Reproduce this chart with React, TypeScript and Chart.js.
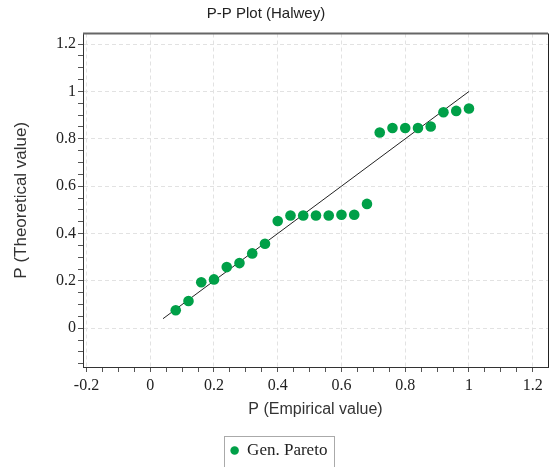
import React, { useEffect, useRef } from "react";
import { Chart, registerables } from "chart.js";

Chart.register(...registerables);

const chartTitle = "P-P Plot (Halwey)";
const xAxisTitle = "P (Empirical value)";
const yAxisTitle = "P (Theoretical value)";
const seriesName = "Gen. Pareto";

const empirical = [
  0.08, 0.12, 0.16, 0.2, 0.24, 0.28, 0.32, 0.36, 0.4, 0.44, 0.48, 0.52,
  0.56, 0.6, 0.64, 0.68, 0.72, 0.76, 0.8, 0.84, 0.88, 0.92, 0.96, 1.0,
];
const theoretical = [
  0.076, 0.115, 0.194, 0.206, 0.258, 0.275, 0.316, 0.357, 0.453, 0.476, 0.476, 0.476,
  0.476, 0.479, 0.479, 0.525, 0.827, 0.846, 0.846, 0.846, 0.852, 0.912, 0.918, 0.928,
];

const refLineX = [0.04, 1.0];
const refLineY = [0.04, 1.0];

const xTickLabels = [-0.2, 0, 0.2, 0.4, 0.6, 0.8, 1, 1.2];
const yTickLabels = [0, 0.2, 0.4, 0.6, 0.8, 1, 1.2];
const xRange = [-0.211, 1.248];
const yRange = [-0.164, 1.245];

const GREEN = "#00a048";

function withMinor(majors: number[], min: number, max: number): number[] {
  const step = (majors[1] - majors[0]) / 4;
  const out: number[] = [];
  let v = majors[0];
  while (v - step >= min - 1e-9) v -= step;
  for (; v <= max + 1e-9; v += step) out.push(Math.round(v * 1e6) / 1e6);
  return out;
}

function isMajor(majors: number[], v: number) {
  return majors.some((m) => Math.abs(m - v) < 1e-6);
}

const titlePlugin = {
  id: "customTitle",
  afterDraw(chart: any) {
    const ctx = chart.ctx;
    ctx.save();
    ctx.font = '15px "Liberation Sans"';
    ctx.fillStyle = "#222";
    ctx.textAlign = "center";
    ctx.textBaseline = "middle";
    ctx.fillText(chartTitle, 266, 14);
    ctx.restore();
  },
};

const framePlugin = {
  id: "frame",
  afterDraw(chart: any) {
    const { ctx, chartArea } = chart;
    const { left, right, top, bottom } = chartArea;
    ctx.save();
    ctx.strokeStyle = "#666";
    ctx.lineWidth = 2;
    ctx.beginPath();
    ctx.moveTo(left, top);
    ctx.lineTo(right, top);
    ctx.stroke();
    ctx.strokeStyle = "#222";
    ctx.lineWidth = 1;
    ctx.beginPath();
    ctx.moveTo(Math.round(right) + 0.5, top);
    ctx.lineTo(Math.round(right) + 0.5, bottom);
    ctx.stroke();
    const lg = chart.legend;
    if (lg && lg.legendHitBoxes && lg.legendHitBoxes[0]) {
      const hb = lg.legendHitBoxes[0];
      const bl = Math.round(hb.left - 7) + 0.5;
      const br = Math.round(hb.left + hb.width + 7) + 0.5;
      const bt = Math.round(lg.top) + 0.5;
      ctx.strokeStyle = "#aaa";
      ctx.lineWidth = 1;
      ctx.strokeRect(bl, bt, br - bl, 40);
    }
    ctx.restore();
  },
};

export default function App() {
  const ref = useRef<HTMLCanvasElement | null>(null);

  useEffect(() => {
    document.body.style.margin = "0";
    if (!ref.current) return;
    const xAll = withMinor(xTickLabels, xRange[0], xRange[1]);
    const yAll = withMinor(yTickLabels, yRange[0], yRange[1]);

    const chart = new Chart(ref.current, {
      type: "scatter",
      data: {
        datasets: [
          {
            label: seriesName,
            data: empirical.map((x, i) => ({ x, y: theoretical[i] })),
            backgroundColor: GREEN,
            borderColor: GREEN,
            borderWidth: 0,
            pointRadius: 5.3,
            pointHoverRadius: 5.3,
            pointStyle: "circle",
          },
          {
            type: "line",
            label: "reference",
            data: refLineX.map((x, i) => ({ x, y: refLineY[i] })),
            borderColor: "#222",
            borderWidth: 1,
            pointRadius: 0,
            showLine: true,
            fill: false,
          } as any,
        ],
      },
      options: {
        animation: false,
        responsive: false,
        devicePixelRatio: 1,
        layout: { padding: { left: 10, right: 8, top: 33.5, bottom: -2 } },
        plugins: {
          title: { display: false },
          tooltip: { enabled: false },
          legend: {
            display: true,
            position: "bottom",
            labels: {
              filter: (item: any) => item.datasetIndex === 0,
              usePointStyle: true,
              boxWidth: 8,
              boxHeight: 6,
              padding: 6,
              color: "#222",
              font: { family: '"Liberation Serif"', size: 17 },
            },
          },
        },
        scales: {
          x: {
            type: "linear",
            min: xRange[0],
            max: xRange[1],
            afterBuildTicks: (scale: any) => {
              scale.ticks = xAll.map((v) => ({ value: v }));
            },
            afterFit: (scale: any) => {
              scale.height = 69;
            },
            ticks: {
              autoSkip: false,
              maxRotation: 0,
              padding: 4,
              color: "#222",
              font: { family: '"Liberation Serif"', size: 16 },
              callback: (v: any) => (isMajor(xTickLabels, Number(v)) ? String(Number(v)) : ""),
            },
            grid: {
              color: (c: any) =>
                c.tick && isMajor(xTickLabels, c.tick.value) ? "#e2e2e2" : "rgba(0,0,0,0)",
              tickColor: "#555",
              tickLength: 5,
              lineWidth: 1,
            },
            border: { display: true, color: "#333", width: 1, dash: [4, 3] },
            title: {
              display: true,
              text: xAxisTitle,
              color: "#333",
              font: { family: '"Liberation Sans"', size: 16 },
              padding: { top: 0, bottom: 17 },
            },
          },
          y: {
            type: "linear",
            min: yRange[0],
            max: yRange[1],
            afterBuildTicks: (scale: any) => {
              scale.ticks = yAll.map((v) => ({ value: v }));
            },
            afterFit: (scale: any) => {
              scale.width = 73;
            },
            ticks: {
              autoSkip: false,
              padding: 2,
              color: "#222",
              font: { family: '"Liberation Serif"', size: 16 },
              callback: (v: any) => (isMajor(yTickLabels, Number(v)) ? String(Number(v)) : ""),
            },
            grid: {
              color: (c: any) =>
                c.tick && isMajor(yTickLabels, c.tick.value) ? "#e2e2e2" : "rgba(0,0,0,0)",
              tickColor: "#555",
              tickLength: 5,
              lineWidth: 1,
            },
            border: { display: true, color: "#333", width: 1, dash: [4, 3] },
            title: {
              display: true,
              text: yAxisTitle,
              color: "#333",
              font: { family: '"Liberation Sans"', size: 17 },
              padding: { top: 1.5, bottom: 0 },
            },
          },
        },
      },
      plugins: [titlePlugin, framePlugin],
    });
    return () => chart.destroy();
  }, []);

  return (
    <div style={{ width: 556, height: 467 }}>
      <canvas ref={ref} width={556} height={467} style={{ display: "block" }} />
    </div>
  );
}
